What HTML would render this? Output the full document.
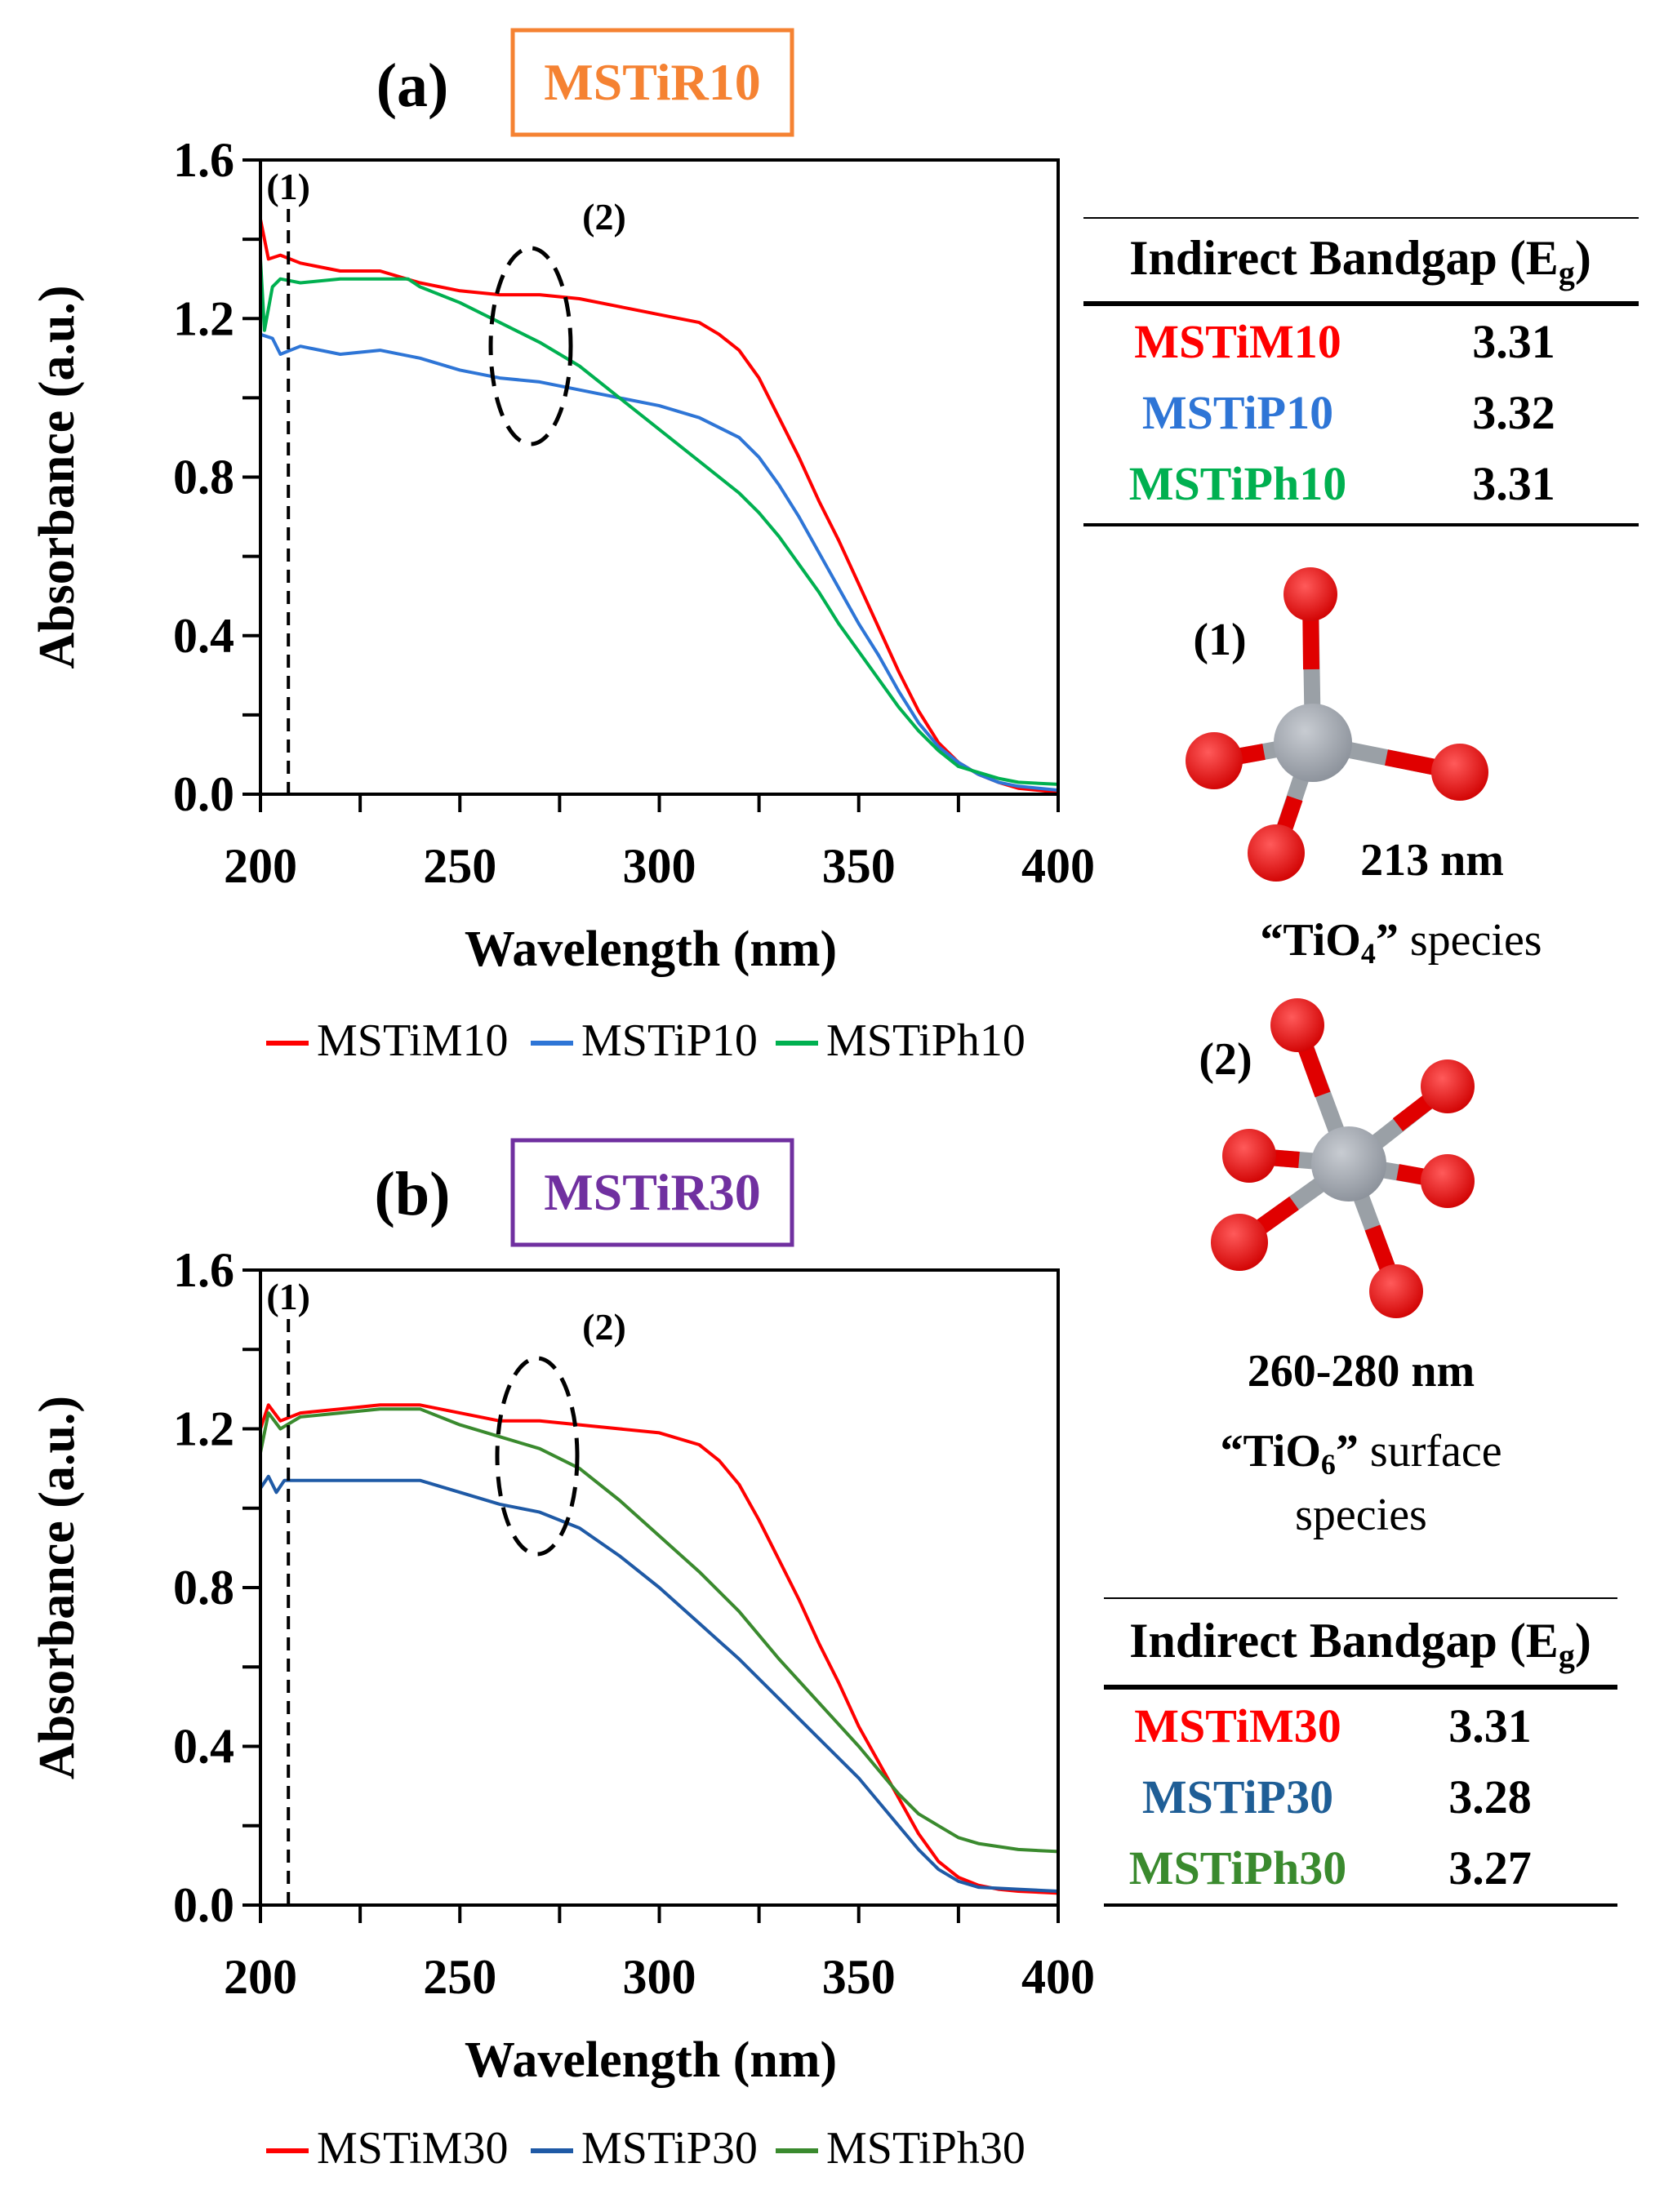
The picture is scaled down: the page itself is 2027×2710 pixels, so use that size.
<!DOCTYPE html>
<html><head><meta charset="utf-8">
<style>
html,body{margin:0;padding:0;background:#fff;}
svg{display:block;}
text{font-family:"Liberation Serif",serif;}
</style></head>
<body>
<svg id="fig" width="2027" height="2710" viewBox="0 0 2027 2710" xmlns="http://www.w3.org/2000/svg">
  <g id="static">
    <text x="505" y="130" font-size="76" font-weight="bold" text-anchor="middle">(a)</text>
    <rect x="628" y="37" width="342" height="128" fill="none" stroke="#F58232" stroke-width="5"/>
    <text x="799" y="122" font-size="64" font-weight="bold" fill="#F58232" text-anchor="middle">MSTiR10</text>
    <text x="505" y="1488" font-size="76" font-weight="bold" text-anchor="middle">(b)</text>
    <rect x="628" y="1397" width="342" height="128" fill="none" stroke="#7030A0" stroke-width="5"/>
    <text x="799" y="1482" font-size="64" font-weight="bold" fill="#7030A0" text-anchor="middle">MSTiR30</text>

    <g>
      <line x1="1327" y1="267" x2="2007" y2="267" stroke="#000" stroke-width="2"/>
      <text x="1666" y="336" font-size="60" font-weight="bold" text-anchor="middle">Indirect Bandgap (E<tspan font-size="40" dy="12">g</tspan><tspan dy="-12">)</tspan></text>
      <line x1="1327" y1="372" x2="2007" y2="372" stroke="#000" stroke-width="6"/>
      <text x="1516" y="438" font-size="58" font-weight="bold" fill="#FF0000" text-anchor="middle">MSTiM10</text>
      <text x="1854" y="438" font-size="58" font-weight="bold" text-anchor="middle">3.31</text>
      <text x="1516" y="525" font-size="58" font-weight="bold" fill="#2E75D6" text-anchor="middle">MSTiP10</text>
      <text x="1854" y="525" font-size="58" font-weight="bold" text-anchor="middle">3.32</text>
      <text x="1516" y="612" font-size="58" font-weight="bold" fill="#00B050" text-anchor="middle">MSTiPh10</text>
      <text x="1854" y="612" font-size="58" font-weight="bold" text-anchor="middle">3.31</text>
      <line x1="1327" y1="643" x2="2007" y2="643" stroke="#000" stroke-width="4"/>
    </g>
    <g>
      <line x1="1352" y1="1958" x2="1981" y2="1958" stroke="#000" stroke-width="2"/>
      <text x="1666" y="2030" font-size="60" font-weight="bold" text-anchor="middle">Indirect Bandgap (E<tspan font-size="40" dy="12">g</tspan><tspan dy="-12">)</tspan></text>
      <line x1="1352" y1="2067" x2="1981" y2="2067" stroke="#000" stroke-width="6"/>
      <text x="1516" y="2134" font-size="58" font-weight="bold" fill="#FF0000" text-anchor="middle">MSTiM30</text>
      <text x="1825" y="2134" font-size="58" font-weight="bold" text-anchor="middle">3.31</text>
      <text x="1516" y="2221" font-size="58" font-weight="bold" fill="#1F5E96" text-anchor="middle">MSTiP30</text>
      <text x="1825" y="2221" font-size="58" font-weight="bold" text-anchor="middle">3.28</text>
      <text x="1516" y="2308" font-size="58" font-weight="bold" fill="#3A8A2E" text-anchor="middle">MSTiPh30</text>
      <text x="1825" y="2308" font-size="58" font-weight="bold" text-anchor="middle">3.27</text>
      <line x1="1352" y1="2334" x2="1981" y2="2334" stroke="#000" stroke-width="4"/>
    </g>

    <defs>
      <radialGradient id="og" cx="0.4" cy="0.35" r="0.7"><stop offset="0" stop-color="#ff5a5a"/><stop offset="1" stop-color="#d00000"/></radialGradient>
      <radialGradient id="tg" cx="0.4" cy="0.35" r="0.7"><stop offset="0" stop-color="#c8ccd2"/><stop offset="1" stop-color="#8a9099"/></radialGradient>
    </defs>
    <g>
      <line x1="1608" y1="910" x2="1605" y2="728" stroke="#9aa0a6" stroke-width="20"/>
      <line x1="1606" y1="820" x2="1605" y2="728" stroke="#e00000" stroke-width="20"/>
      <line x1="1608" y1="910" x2="1487" y2="932" stroke="#9aa0a6" stroke-width="20"/>
      <line x1="1548" y1="921" x2="1487" y2="932" stroke="#e00000" stroke-width="20"/>
      <line x1="1608" y1="910" x2="1788" y2="946" stroke="#9aa0a6" stroke-width="20"/>
      <line x1="1698" y1="928" x2="1788" y2="946" stroke="#e00000" stroke-width="20"/>
      <line x1="1608" y1="910" x2="1563" y2="1045" stroke="#9aa0a6" stroke-width="20"/>
      <line x1="1586" y1="978" x2="1563" y2="1045" stroke="#e00000" stroke-width="20"/>
      <circle cx="1608" cy="910" r="48" fill="url(#tg)"/>
      <circle cx="1605" cy="728" r="33" fill="url(#og)"/>
      <circle cx="1487" cy="932" r="35" fill="url(#og)"/>
      <circle cx="1788" cy="946" r="35" fill="url(#og)"/>
      <circle cx="1563" cy="1045" r="35" fill="url(#og)"/>
    </g>
    <text x="1494" y="802" font-size="56" font-weight="bold" text-anchor="middle">(1)</text>
    <text x="1754" y="1072" font-size="56" font-weight="bold" text-anchor="middle">213 nm</text>
    <text x="1716" y="1170" font-size="56" text-anchor="middle"><tspan font-weight="bold">“TiO<tspan font-size="36" dy="10">4</tspan><tspan dy="-10">”</tspan></tspan> species</text>
    <g>
      <line x1="1652" y1="1426" x2="1589" y2="1256" stroke="#9aa0a6" stroke-width="20"/>
      <line x1="1620" y1="1341" x2="1589" y2="1256" stroke="#e00000" stroke-width="20"/>
      <line x1="1652" y1="1426" x2="1773" y2="1331" stroke="#9aa0a6" stroke-width="20"/>
      <line x1="1712" y1="1378" x2="1773" y2="1331" stroke="#e00000" stroke-width="20"/>
      <line x1="1652" y1="1426" x2="1530" y2="1416" stroke="#9aa0a6" stroke-width="20"/>
      <line x1="1591" y1="1421" x2="1530" y2="1416" stroke="#e00000" stroke-width="20"/>
      <line x1="1652" y1="1426" x2="1773" y2="1447" stroke="#9aa0a6" stroke-width="20"/>
      <line x1="1712" y1="1436" x2="1773" y2="1447" stroke="#e00000" stroke-width="20"/>
      <line x1="1652" y1="1426" x2="1518" y2="1522" stroke="#9aa0a6" stroke-width="20"/>
      <line x1="1585" y1="1474" x2="1518" y2="1522" stroke="#e00000" stroke-width="20"/>
      <line x1="1652" y1="1426" x2="1710" y2="1582" stroke="#9aa0a6" stroke-width="20"/>
      <line x1="1681" y1="1504" x2="1710" y2="1582" stroke="#e00000" stroke-width="20"/>
      <circle cx="1652" cy="1426" r="46" fill="url(#tg)"/>
      <circle cx="1589" cy="1256" r="33" fill="url(#og)"/>
      <circle cx="1773" cy="1331" r="33" fill="url(#og)"/>
      <circle cx="1530" cy="1416" r="33" fill="url(#og)"/>
      <circle cx="1773" cy="1447" r="33" fill="url(#og)"/>
      <circle cx="1518" cy="1522" r="35" fill="url(#og)"/>
      <circle cx="1710" cy="1582" r="33" fill="url(#og)"/>
    </g>
    <text x="1501" y="1316" font-size="56" font-weight="bold" text-anchor="middle">(2)</text>
    <text x="1667" y="1698" font-size="56" font-weight="bold" text-anchor="middle">260-280 nm</text>
    <text x="1667" y="1796" font-size="56" text-anchor="middle"><tspan font-weight="bold">“TiO<tspan font-size="36" dy="10">6</tspan><tspan dy="-10">”</tspan></tspan> surface</text>
    <text x="1667" y="1874" font-size="56" text-anchor="middle">species</text>
  </g>
  <g id="charts"></g>
</svg>
<script>
const wlA_M = [200,202,205,210,220,230,240,250,260,270,280,290,300,310,315,320,325,330,335,340,345,350,355,360,365,370,375,380,385,390,400];
const absA_M = [1.45,1.35,1.36,1.34,1.32,1.32,1.29,1.27,1.26,1.26,1.25,1.23,1.21,1.19,1.16,1.12,1.05,0.95,0.85,0.74,0.64,0.53,0.42,0.31,0.21,0.13,0.08,0.05,0.03,0.015,0.005];
const wlA_P = [200,203,205,210,220,230,240,250,260,270,280,290,300,310,320,325,330,335,340,345,350,355,360,365,370,375,380,385,390,400];
const absA_P = [1.16,1.15,1.11,1.13,1.11,1.12,1.10,1.07,1.05,1.04,1.02,1.00,0.98,0.95,0.90,0.85,0.78,0.70,0.61,0.52,0.43,0.35,0.26,0.18,0.12,0.08,0.05,0.03,0.02,0.01];
const wlA_Ph = [200,201,203,205,210,220,230,237,240,250,260,270,280,290,300,310,320,325,330,335,340,345,350,355,360,365,370,375,380,385,390,400];
const absA_Ph = [1.35,1.17,1.28,1.30,1.29,1.30,1.30,1.30,1.28,1.24,1.19,1.14,1.08,1.00,0.92,0.84,0.76,0.71,0.65,0.58,0.51,0.43,0.36,0.29,0.22,0.16,0.11,0.07,0.055,0.04,0.03,0.025];
const wlB_M = [200,202,205,210,220,230,240,250,260,270,280,290,300,310,315,320,325,330,335,340,345,350,355,360,365,370,375,380,385,390,400];
const absB_M = [1.20,1.26,1.22,1.24,1.25,1.26,1.26,1.24,1.22,1.22,1.21,1.20,1.19,1.16,1.12,1.06,0.97,0.87,0.77,0.66,0.56,0.45,0.36,0.27,0.18,0.11,0.07,0.05,0.04,0.035,0.03];
const wlB_P = [200,202,204,206,210,220,230,240,250,260,270,280,290,300,310,320,330,340,350,355,360,365,370,375,380,390,400];
const absB_P = [1.05,1.08,1.04,1.07,1.07,1.07,1.07,1.07,1.04,1.01,0.99,0.95,0.88,0.80,0.71,0.62,0.52,0.42,0.32,0.26,0.20,0.14,0.09,0.06,0.045,0.04,0.035];
const wlB_Ph = [200,202,205,210,220,230,240,250,260,270,280,290,300,310,320,330,340,350,355,360,365,370,375,380,390,400];
const absB_Ph = [1.14,1.24,1.20,1.23,1.24,1.25,1.25,1.21,1.18,1.15,1.10,1.02,0.93,0.84,0.74,0.62,0.51,0.40,0.34,0.28,0.23,0.20,0.17,0.155,0.14,0.135];
const xTicks = [200,250,300,350,400];
const yTicks = [0.0,0.4,0.8,1.2,1.6];
const legendA = ["MSTiM10","MSTiP10","MSTiPh10"];
const legendB = ["MSTiM30","MSTiP30","MSTiPh30"];

const NS = "http://www.w3.org/2000/svg";
const root = document.getElementById('charts');
function mk(tag, attrs, parent){ const e=document.createElementNS(NS,tag); for(const k in attrs) e.setAttribute(k,attrs[k]); parent.appendChild(e); return e; }

function drawPanel(cfg){
  const L=319, R=1296, T=cfg.top, B=cfg.bottom;
  const xs = w => L + (w-200)/(400-200)*(R-L);
  const ys = a => B - a/1.6*(B-T);
  const g = mk('g',{},root);
  
  
  cfg.series.forEach(s=>{
    const d = s.x.map((w,i)=>(i?'L':'M')+xs(w).toFixed(1)+','+ys(s.y[i]).toFixed(1)).join(' ');
    const p = mk('path',{d:d,fill:'none',stroke:s.color,'stroke-width':4,'stroke-linejoin':'round'},g);
    
    
  });
  const box = mk('rect',{x:L,y:T,width:R-L,height:B-T,fill:'none',stroke:'#000','stroke-width':4},g);
  
  
  for(let w=200; w<=400; w+=25){ mk('line',{x1:xs(w),y1:B,x2:xs(w),y2:B+22,stroke:'#000','stroke-width':4},g); }
  for(let a=0; a<=1.6001; a+=0.2){ mk('line',{x1:L-22,y1:ys(a),x2:L,y2:ys(a),stroke:'#000','stroke-width':4},g); }
  xTicks.forEach(w=>{
    const t = mk('text',{x:xs(w),y:B+108,'font-size':60,'font-weight':'bold','text-anchor':'middle'},g);
    t.textContent = w;
    
    
  });
  yTicks.forEach(a=>{
    const t = mk('text',{x:L-32,y:ys(a)+20,'font-size':60,'font-weight':'bold','text-anchor':'end'},g);
    t.textContent = a.toFixed(1);
    
    
  });
  const xt = mk('text',{x:797,y:B+210,'font-size':62,'font-weight':'bold','text-anchor':'middle'},g);
  xt.textContent = 'Wavelength (nm)';
  
  
  const yc = (T+B)/2;
  const yt = mk('text',{x:0,y:0,'font-size':62,'font-weight':'bold','text-anchor':'middle',transform:`translate(90,${yc}) rotate(-90)`},g);
  yt.textContent = 'Absorbance (a.u.)';
  
  
  const dl = mk('line',{x1:xs(207),y1:T+60,x2:xs(207),y2:B,stroke:'#000','stroke-width':4,'stroke-dasharray':'16,10'},g);
  
  
  const l1 = mk('text',{x:xs(207),y:T+48,'font-size':46,'font-weight':'bold','text-anchor':'middle'},g);
  l1.textContent='(1)';
  
  
  const l2 = mk('text',{x:740,y:T+85,'font-size':46,'font-weight':'bold','text-anchor':'middle'},g);
  l2.textContent='(2)';
  
  
  const el = mk('ellipse',{cx:cfg.ecx,cy:T+228,rx:49,ry:120,fill:'none',stroke:'#000','stroke-width':5,'stroke-dasharray':'24,14'},g);
  
  
  const lx=[326,650,950];
  cfg.series.forEach((s,i)=>{
    mk('line',{x1:lx[i],y1:cfg.legY-15,x2:lx[i]+52,y2:cfg.legY-15,stroke:s.color,'stroke-width':6},g);
    const t = mk('text',{x:lx[i]+62,y:cfg.legY,'font-size':56},g);
    t.textContent = s.label;
    
    
  });
}
drawPanel({name:'chart-a',top:196,bottom:973,legY:1293,ecx:650,series:[
  {x:wlA_M,y:absA_M,color:'#FF0000',label:legendA[0]},
  {x:wlA_P,y:absA_P,color:'#2E75D6',label:legendA[1]},
  {x:wlA_Ph,y:absA_Ph,color:'#00B050',label:legendA[2]}]});
drawPanel({name:'chart-b',top:1556,bottom:2334,legY:2650,ecx:658,series:[
  {x:wlB_M,y:absB_M,color:'#FF0000',label:legendB[0]},
  {x:wlB_P,y:absB_P,color:'#1F5AA6',label:legendB[1]},
  {x:wlB_Ph,y:absB_Ph,color:'#3A8A2E',label:legendB[2]}]});
</script>
</body></html>
